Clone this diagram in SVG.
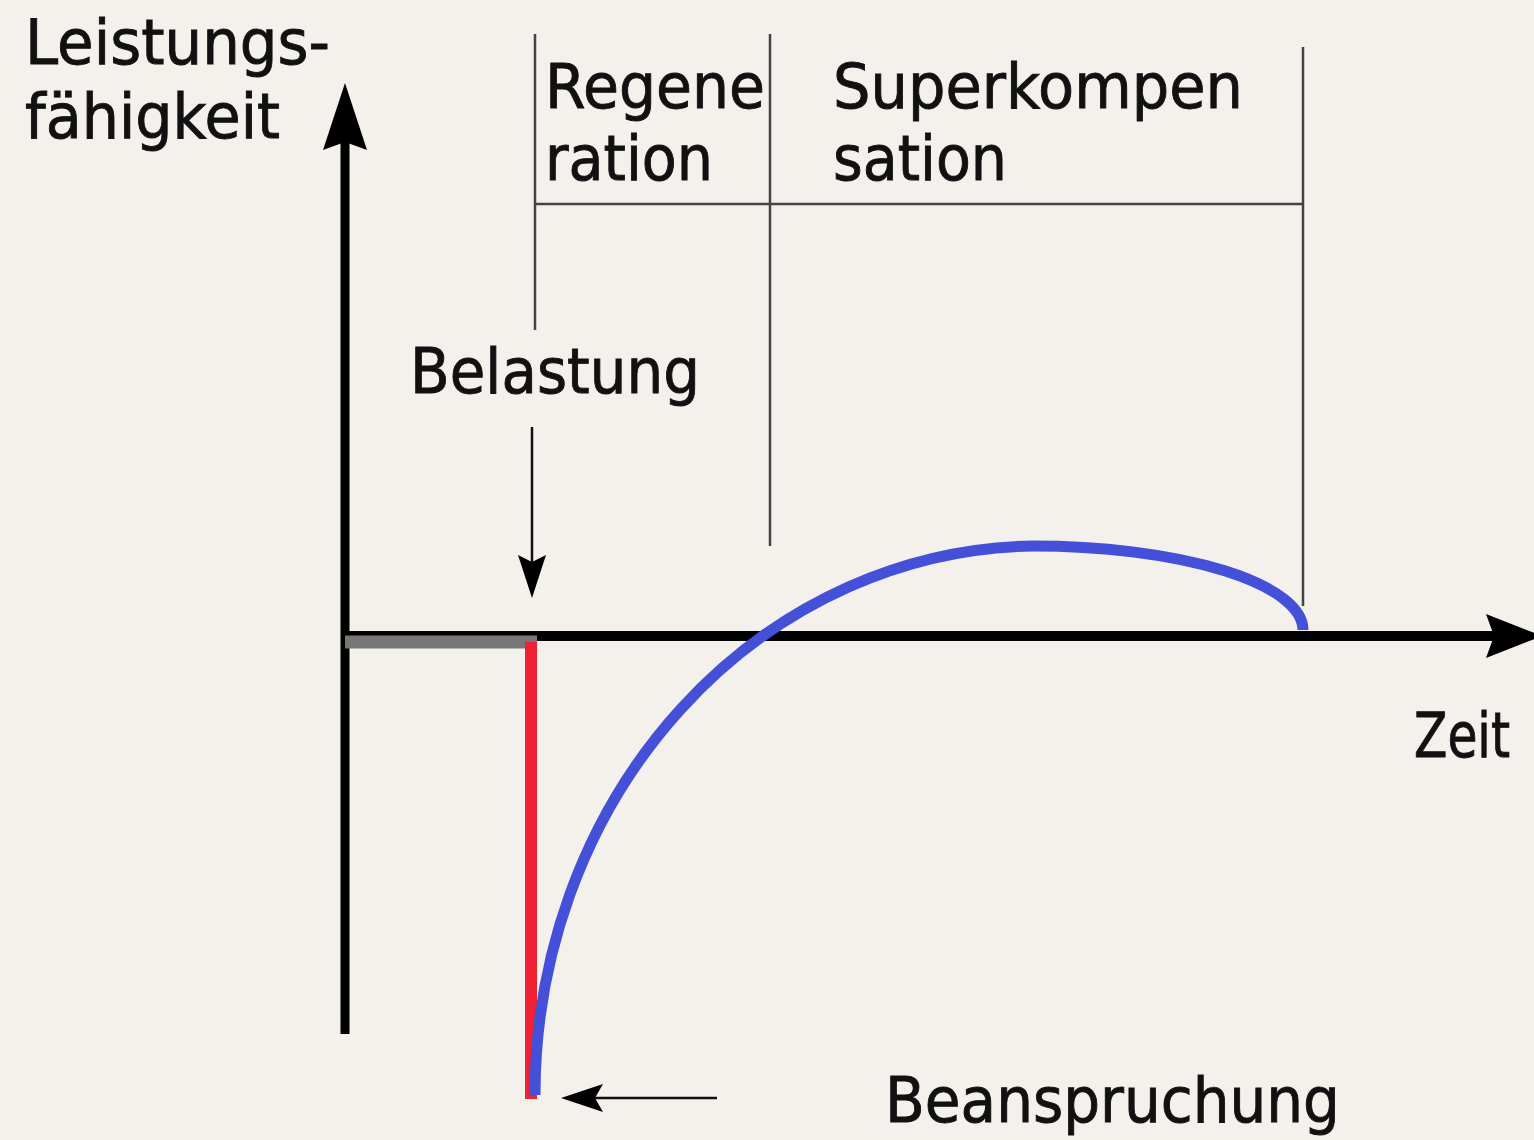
<svg xmlns="http://www.w3.org/2000/svg" width="1534" height="1140" viewBox="0 0 1534 1140">
<style>
.t{font-family:"DejaVu Sans","Liberation Sans",sans-serif;font-size:62px;fill:#111;stroke:#111;stroke-width:0.9}
.thin{stroke:#444;stroke-width:2.5;fill:none}
.head{fill:#000}
</style>
<rect width="1534" height="1140" fill="#f4f0eb"/>
<g id="grid">
<line class="thin" x1="535" y1="34" x2="535" y2="330"/>
<line class="thin" x1="770" y1="34" x2="770" y2="546"/>
<line class="thin" x1="1303" y1="47" x2="1303" y2="606"/>
<line class="thin" x1="535" y1="204" x2="1303" y2="204"/>
</g>
<g id="axes">
<line x1="345" y1="1034" x2="345" y2="140" stroke="#000" stroke-width="9"/>
<polygon class="head" points="345,83 367,150 345,142 323,150"/>
<line x1="345" y1="636" x2="1495" y2="636" stroke="#000" stroke-width="10"/>
<polygon class="head" points="1542,636 1486,658 1494,636 1486,614"/>
<line x1="345" y1="642" x2="537" y2="642" stroke="#777" stroke-width="13"/>
</g>
<g id="curves">
<line x1="531" y1="642" x2="531" y2="1099" stroke="#ee2233" stroke-width="12"/>
<path d="M535,1095 A505,549 0 0 1 1033,546 A270,84 0 0 1 1303,630" fill="none" stroke="#4450d8" stroke-width="11"/>
</g>
<g id="connectors">
<line x1="532" y1="427" x2="532" y2="565" stroke="#111" stroke-width="2.5"/>
<polygon class="head" points="532,598 546,555 532,562 518,555"/>
<line x1="717" y1="1098" x2="590" y2="1098" stroke="#111" stroke-width="2.5"/>
<polygon class="head" points="561,1098 603,1084 595,1098 603,1112"/>
</g>
<g id="labels">
<text class="t" x="25" y="64" textLength="305" lengthAdjust="spacingAndGlyphs">Leistungs-</text>
<text class="t" x="25" y="138" textLength="255" lengthAdjust="spacingAndGlyphs">fähigkeit</text>
<text class="t" x="545" y="108" textLength="220" lengthAdjust="spacingAndGlyphs">Regene</text>
<text class="t" x="545" y="180" textLength="168" lengthAdjust="spacingAndGlyphs">ration</text>
<text class="t" x="833" y="108" textLength="410" lengthAdjust="spacingAndGlyphs">Superkompen</text>
<text class="t" x="833" y="180" textLength="174" lengthAdjust="spacingAndGlyphs">sation</text>
<text class="t" x="410" y="393" textLength="290" lengthAdjust="spacingAndGlyphs">Belastung</text>
<text class="t" x="1414" y="757" textLength="96" lengthAdjust="spacingAndGlyphs">Zeit</text>
<text class="t" x="885" y="1122" textLength="455" lengthAdjust="spacingAndGlyphs">Beanspruchung</text>
</g>
</svg>
